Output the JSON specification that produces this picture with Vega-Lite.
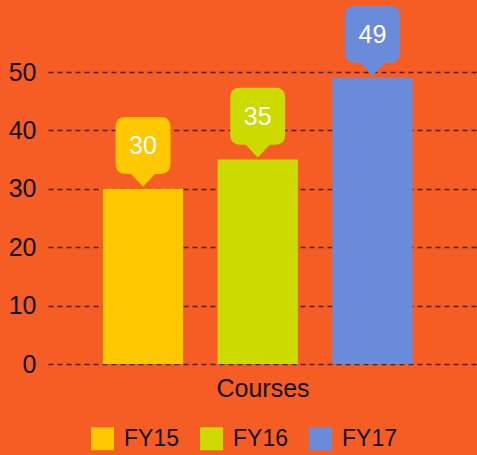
{
  "$schema": "https://vega.github.io/schema/vega-lite/v6.json",
  "width": 429,
  "height": 292,
  "autosize": {"type": "none"},
  "padding": {"left": 48, "top": 72, "right": 0, "bottom": 91},
  "background": "#F55D24",
  "config": {
    "view": {"stroke": null},
    "font": "Liberation Sans",
    "axis": {"labelColor": "#111111", "titleColor": "#111111", "labelFont": "Liberation Sans", "titleFont": "Liberation Sans"},
    "legend": {"labelFont": "Liberation Sans"}
  },
  "data": {
    "values": [
      {"year": "FY15", "value": 30},
      {"year": "FY16", "value": 35},
      {"year": "FY17", "value": 49}
    ]
  },
  "encoding": {
    "x": {
      "field": "year",
      "type": "nominal",
      "scale": {"paddingInner": 0.3, "paddingOuter": 0.52, "align": 0.46},
      "axis": {"labels": false, "ticks": false, "domain": false, "title": "Courses", "titleFontSize": 25, "titleFontWeight": "normal", "titlePadding": 12}
    },
    "y": {
      "field": "value",
      "type": "quantitative",
      "scale": {"domain": [0, 50]},
      "axis": {"values": [0, 10, 20, 30, 40, 50], "ticks": false, "domain": false, "title": null, "labelFontSize": 25, "labelPadding": 12, "gridColor": "#4A2412", "gridDash": [5, 4], "gridWidth": 1.5, "gridOpacity": 1}
    },
    "color": {
      "field": "year",
      "type": "nominal",
      "scale": {"domain": ["FY15", "FY16", "FY17"], "range": ["#FFC800", "#CCDA00", "#6A8BD9"]},
      "legend": {
        "title": null,
        "orient": "none",
        "direction": "horizontal",
        "legendX": 43,
        "legendY": 355,
        "symbolType": "square",
        "symbolSize": 529,
        "symbolStrokeWidth": 0,
        "symbolOpacity": 1,
        "labelFontSize": 23,
        "labelColor": "#111111",
        "labelOffset": 10,
        "columnPadding": 21
      }
    }
  },
  "layer": [
    {"mark": {"type": "bar", "opacity": 1}},
    {
      "mark": {
        "type": "point",
        "filled": true,
        "opacity": 1,
        "size": 3025,
        "yOffset": -2,
        "shape": "M -0.44 -0.47 L 0 0 L 0.44 -0.47 L 0.64 -0.47 Q 1 -0.47 1 -0.83 L 1 -2.18 Q 1 -2.54 0.64 -2.54 L -0.64 -2.54 Q -1 -2.54 -1 -2.18 L -1 -0.83 Q -1 -0.47 -0.64 -0.47 Z"
      }
    },
    {
      "mark": {"type": "text", "color": "white", "fontSize": 25, "dy": -43, "baseline": "middle", "align": "center"},
      "encoding": {"text": {"field": "value", "type": "quantitative"}, "color": {"value": "white"}}
    }
  ]
}
